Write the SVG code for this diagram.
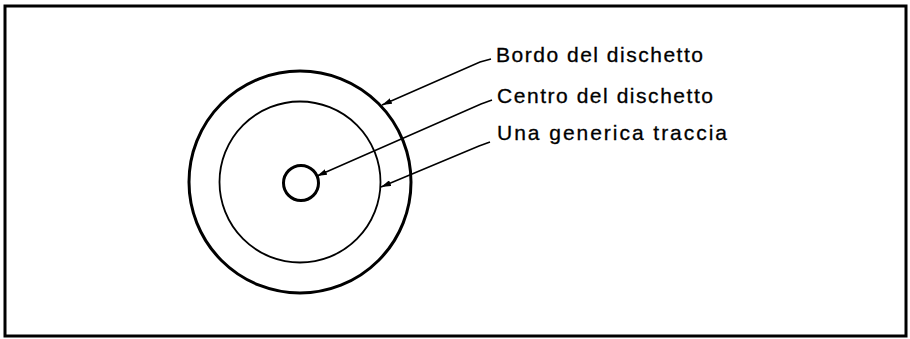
<svg xmlns="http://www.w3.org/2000/svg" width="910" height="339" viewBox="0 0 910 339">
<style>
.lbl{font-family:"Liberation Sans",Arial,sans-serif;font-size:21px;fill:#000;stroke:#000;stroke-width:0.3}
.ln{fill:none;stroke:#000;stroke-width:1.5}
</style>
<defs>
<marker id="ah" viewBox="0 0 10 6" refX="10" refY="3" markerWidth="10" markerHeight="6" markerUnits="userSpaceOnUse" orient="auto">
<path d="M0,0 L10,3 L0,6 Z" fill="#000"/>
</marker>
</defs>
<rect x="0" y="0" width="910" height="339" fill="#fff"/>
<rect x="5" y="6" width="901" height="330" fill="none" stroke="#000" stroke-width="3"/>
<g id="disk">
<circle cx="300" cy="182" r="111" fill="none" stroke="#000" stroke-width="3"/>
<circle cx="300" cy="182" r="80.5" fill="none" stroke="#000" stroke-width="1.8"/>
<circle cx="301" cy="183" r="17.5" fill="none" stroke="#000" stroke-width="3"/>
</g>
<g id="connectors">
<polyline class="ln" points="491,59 480,62 382,105" marker-end="url(#ah)"/>
<polyline class="ln" points="492,100 481,104 317,176" marker-end="url(#ah)"/>
<polyline class="ln" points="490,142 479,146 381,187" marker-end="url(#ah)"/>
</g>
<g id="label-bordo"><text class="lbl" x="496" y="62" textLength="207" lengthAdjust="spacing">Bordo del dischetto</text></g>
<g id="label-centro"><text class="lbl" x="497" y="103" textLength="216" lengthAdjust="spacing">Centro del dischetto</text></g>
<g id="label-traccia"><text class="lbl" x="497" y="140" textLength="230" lengthAdjust="spacing">Una generica traccia</text></g>
</svg>
